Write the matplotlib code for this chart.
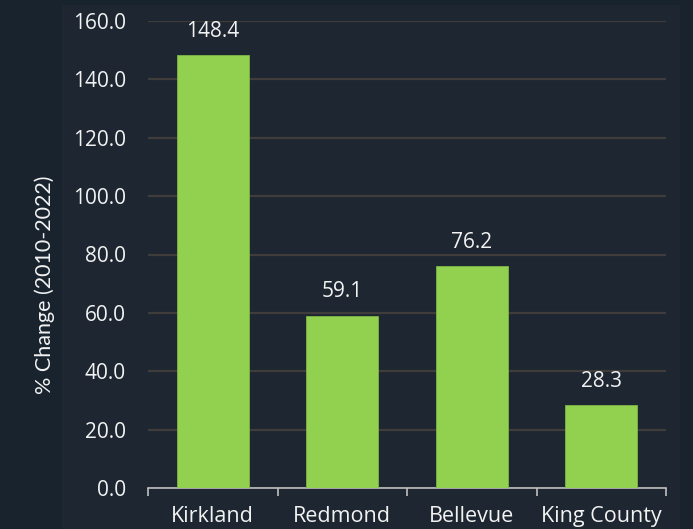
import matplotlib.pyplot as plt
import matplotlib.patches as patches
import numpy as np

cities = ['Kirkland', 'Redmond', 'Bellevue', 'King County']
pct_change = [148.4, 59.1, 76.2, 28.3]
y_ticks = [0, 20, 40, 60, 80, 100, 120, 140, 160]

OUTER_BG = '#19232e'
PANEL_BG = '#1d2631'
BAR_COLOR = '#92d050'
TEXT_COLOR = '#f2f2f2'

fig = plt.figure(figsize=(6.93, 5.29), dpi=100, facecolor=OUTER_BG)
# lighter panel behind the chart
fig.patches.append(patches.Rectangle((62 / 693, 0), (680 - 62) / 693, 1 - 5 / 529,
                                     transform=fig.transFigure, facecolor=PANEL_BG,
                                     edgecolor='none', zorder=-10))

ax = fig.add_axes([148 / 693, 1 - 488 / 529, (666 - 148) / 693, (488 - 21) / 529])
ax.set_facecolor('none')
ax.set_zorder(5)

x = np.arange(len(cities))
bars = ax.bar(x, pct_change, width=0.556, color=BAR_COLOR, edgecolor='#7fb544',
              linewidth=0.6, zorder=3)

for xi, v in zip(x, pct_change):
    ax.annotate(f'{v:.1f}', (xi, v), xytext=(0, 13), textcoords='offset points',
                ha='center', va='baseline', color=TEXT_COLOR,
                fontsize=15, family='Open Sans')

ax.set_xlim(-0.5, len(cities) - 0.5)
ax.set_ylim(0, 160)
ax.set_yticks(y_ticks)
ax.set_yticklabels([f'{t:.1f}' for t in y_ticks], fontsize=15, color=TEXT_COLOR,
                   family='Open Sans')
ax.tick_params(axis='y', length=0, pad=16)
ax.yaxis.grid(True, color='#403c3c', linewidth=1.6, zorder=0)

# category labels, ticks at boundaries
ax.set_xticks(x)
ax.set_xticklabels(cities, fontsize=15.5, color=TEXT_COLOR, family='Open Sans')
ax.tick_params(axis='x', length=0, pad=13)
ax.set_xticks(np.arange(-0.5, len(cities)), minor=True)
ax.tick_params(axis='x', which='minor', length=6, color='#bfbfbf', width=1.2,
               direction='out')

for s in ['top', 'right', 'left']:
    ax.spines[s].set_visible(False)
ax.spines['bottom'].set_color('#bfbfbf')
ax.spines['bottom'].set_linewidth(1.2)

ax.set_ylabel('% Change (2010-2022)', fontsize=15.5, color=TEXT_COLOR, family='Lato')
ax.yaxis.set_label_coords(-0.18, 0.435)

fig.savefig('out.png', dpi=100, facecolor=OUTER_BG)
